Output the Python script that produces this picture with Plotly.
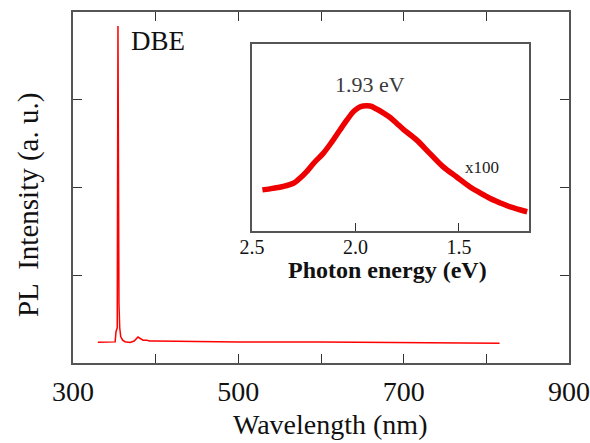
import plotly.graph_objects as go

# Main spectrum (wavelength nm, PL intensity a.u.)
wl = [330, 345, 351, 352, 353.5, 354.4, 355.2, 355.6, 356.5, 357.7, 360, 362.9, 369, 374, 378.6, 382, 384.7, 389.5, 392, 399, 430, 500, 600, 650, 700, 750, 816]
pl = [0.235, 0.235, 0.24, 0.356, 0.40, 3.83, 0.70, 0.68, 0.40, 0.30, 0.26, 0.242, 0.233, 0.25, 0.295, 0.27, 0.26, 0.26, 0.25, 0.25, 0.245, 0.24, 0.24, 0.238, 0.235, 0.232, 0.225]

# Inset (photon energy eV, intensity x100)
ev = [2.45, 2.40, 2.35, 2.30, 2.278, 2.236, 2.20, 2.156, 2.115, 2.075, 2.04, 2.01, 1.985, 1.963, 1.93, 1.898, 1.866, 1.834, 1.80, 1.77, 1.705, 1.641, 1.577, 1.512, 1.448, 1.40, 1.351, 1.30, 1.255, 1.21, 1.17]
iv = [0.22, 0.228, 0.238, 0.255, 0.273, 0.318, 0.365, 0.415, 0.475, 0.54, 0.595, 0.638, 0.66, 0.668, 0.668, 0.652, 0.632, 0.608, 0.575, 0.545, 0.487, 0.415, 0.344, 0.29, 0.237, 0.205, 0.175, 0.15, 0.13, 0.115, 0.103]

x_ticks = [300, 400, 500, 600, 700, 800, 900]
x_text = ["300", "", "500", "", "700", "", "900"]
e_ticks = [2.5, 2.0, 1.5]
e_text = ["2.5", "2.0", "1.5"]

SERIF = "Liberation Serif, Times New Roman, serif"
AX = "#555555"

fig = go.Figure()
fig.add_trace(go.Scatter(x=wl, y=pl, mode="lines", line=dict(color="#ff0000", width=1.5),
                         xaxis="x", yaxis="y", showlegend=False))
fig.add_trace(go.Scatter(x=ev, y=iv, mode="lines", line=dict(color="#ee0000", width=5.5, shape="spline"),
                         xaxis="x2", yaxis="y2", showlegend=False))

fig.update_layout(
    width=590, height=443,
    margin=dict(l=73, r=21, t=12, b=80),
    paper_bgcolor="white", plot_bgcolor="white",
    font=dict(family=SERIF, color="#111111"),
    xaxis=dict(range=[300, 900], tickvals=x_ticks, ticktext=x_text, ticks="inside", ticklen=9,
               tickcolor="#333", showline=True, linecolor=AX, linewidth=1.5, mirror="ticks",
               showgrid=False, zeroline=False, tickfont=dict(size=28, family=SERIF),
               ticklabelstandoff=3, automargin=False),
    yaxis=dict(range=[0, 3.99], tickvals=[1, 2, 3], ticks="inside", ticklen=9, tickcolor="#333",
               showticklabels=False, showline=True, linecolor=AX, linewidth=1.5, mirror="ticks",
               showgrid=False, zeroline=False, automargin=False),
    xaxis2=dict(domain=[0.361, 0.919], anchor="y2", range=[2.5, 1.162], tickvals=e_ticks,
                ticktext=e_text, ticks="inside", ticklen=8, tickcolor="#333", showline=True,
                linecolor=AX, linewidth=1.5, mirror=True, showgrid=False, zeroline=False,
                tickfont=dict(size=20, family=SERIF), ticklabelstandoff=-3, automargin=False),
    yaxis2=dict(domain=[0.376, 0.909], anchor="x2", range=[0, 1], showticklabels=False, ticks="",
                showline=True, linecolor=AX, linewidth=1.5, mirror=True, showgrid=False,
                zeroline=False, automargin=False),
)

# Axis titles
fig.add_annotation(x=0.518, y=-0.174, xref="paper", yref="paper", text="Wavelength (nm)",
                   xanchor="center", yanchor="middle",
                   showarrow=False, font=dict(size=28, family=SERIF, color="#111"))
fig.add_annotation(x=-0.0907, y=0.45, xref="paper", yref="paper", text="PL  Intensity (a. u.)",
                   xanchor="center", yanchor="middle",
                   textangle=-90, showarrow=False, font=dict(size=29, family=SERIF, color="#111"))
fig.add_annotation(x=0.635, y=0.265, xref="paper", yref="paper", text="<b>Photon energy (eV)</b>",
                   xanchor="center", yanchor="middle",
                   showarrow=False, font=dict(size=24, family=SERIF, color="#111"))

# Labels
fig.add_annotation(x=402.8, y=3.66, xref="x", yref="y", text="DBE", showarrow=False,
                   xanchor="center", yanchor="middle",
                   font=dict(size=27, family=SERIF, color="#111"))
fig.add_annotation(x=1.93, y=0.785, xref="x2", yref="y2", text="1.93 eV", showarrow=False,
                   xanchor="center", yanchor="middle",
                   font=dict(size=22, family=SERIF, color="#3a3a3a"))
fig.add_annotation(x=1.39, y=0.34, xref="x2", yref="y2", text="x100", showarrow=False,
                   xanchor="center", yanchor="middle",
                   font=dict(size=17, family=SERIF, color="#222"))

fig.write_html("out.html")
